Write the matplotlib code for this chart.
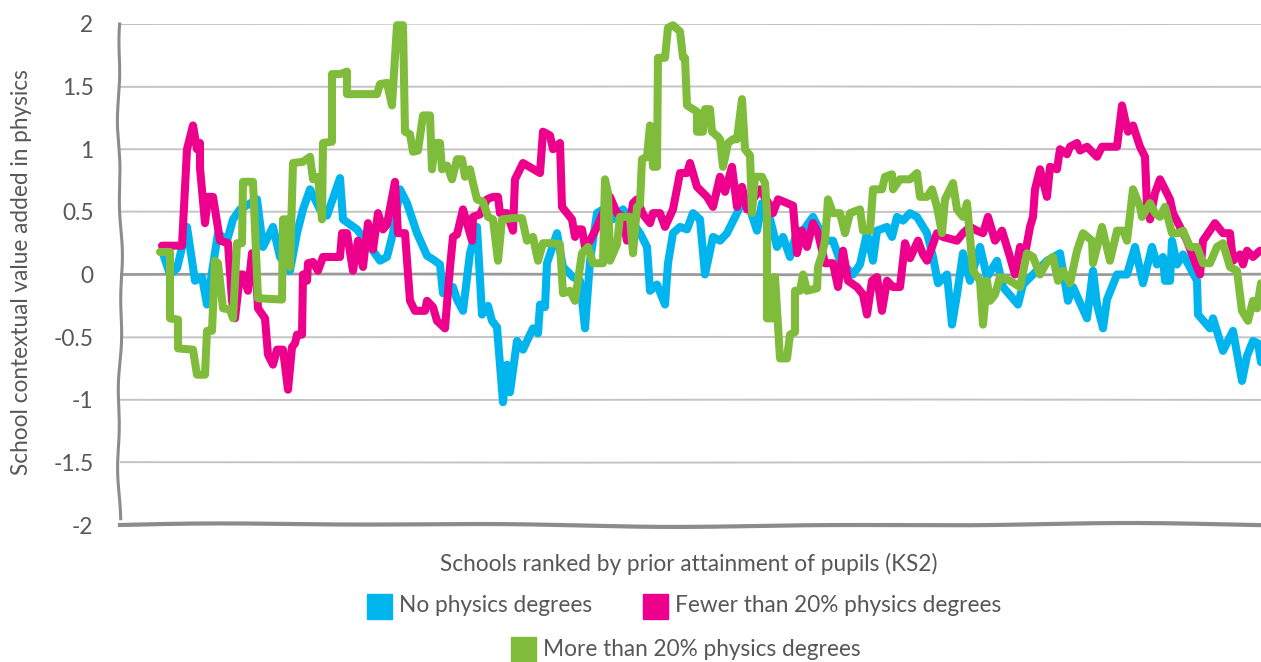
import numpy as np
import matplotlib
matplotlib.use("Agg")
import matplotlib.pyplot as plt
from matplotlib.patches import Rectangle

# ---------------- data: (school rank, contextual value added) ----------------
no_degrees = [
    (2, 0.19), (10, 0.0), (17, 0.05), (27, 0.38), (35, -0.05), (42, -0.02), (47, -0.24), (58, 0.33),
    (67, 0.27), (73, 0.44), (80, 0.52), (97, 0.60), (103, 0.22), (113, 0.38), (120, 0.14), (130, 0.03),
    (137, 0.33), (143, 0.52), (150, 0.68), (160, 0.52), (167, 0.47), (180, 0.77), (183, 0.44), (197, 0.36),
    (213, 0.19), (220, 0.11), (227, 0.14), (233, 0.33), (240, 0.68), (247, 0.57), (257, 0.33), (267, 0.15),
    (273, 0.12), (280, 0.08), (283, -0.15), (290, -0.12), (293, -0.1), (297, -0.2), (303, -0.29), (310, 0.17),
    (317, 0.38), (322, -0.32), (328, -0.25), (332, -0.37), (337, -0.42), (343, -1.02), (347, -0.72),
    (350, -0.94), (357, -0.53), (363, -0.6), (367, -0.53), (373, -0.43), (378, -0.47), (380, -0.24),
    (385, -0.26), (387, 0.09), (397, 0.33), (403, 0.06), (413, -0.02), (420, -0.05), (425, -0.43), (430, 0.11),
    (437, 0.49), (447, 0.54), (453, 0.44), (463, 0.52), (473, 0.41), (480, 0.33), (487, 0.22), (490, -0.13),
    (497, -0.08), (505, -0.24), (508, 0.09), (513, 0.33), (520, 0.38), (527, 0.36), (533, 0.49), (540, 0.44),
    (545, 0.0), (553, 0.3), (560, 0.27), (567, 0.33), (577, 0.49), (583, 0.6), (590, 0.52), (597, 0.35),
    (602, 0.57), (607, 0.54), (617, 0.22), (623, 0.3), (630, 0.14), (637, 0.35), (643, 0.35), (653, 0.46),
    (660, 0.35), (667, 0.27), (673, 0.27), (680, 0.11), (687, 0.05), (693, 0.0), (700, 0.08), (707, 0.33),
    (713, 0.11), (717, 0.35), (727, 0.38), (732, 0.3), (737, 0.46), (743, 0.43), (750, 0.49), (757, 0.46),
    (767, 0.33), (773, 0.14), (778, -0.07), (787, 0.0), (792, -0.4), (797, -0.16), (803, 0.17), (810, -0.05),
    (820, 0.22), (827, -0.02), (837, 0.11), (843, -0.1), (858, -0.24), (863, -0.08), (873, 0.0), (887, 0.11),
    (900, 0.17), (908, -0.21), (913, -0.1), (927, -0.35), (933, 0.03), (937, -0.24), (943, -0.43), (947, -0.2),
    (957, 0.0), (967, 0.0), (975, 0.22), (983, -0.07), (992, 0.22), (997, 0.08), (1003, 0.14), (1005, -0.05),
    (1010, -0.05), (1012, 0.27), (1017, 0.08), (1023, 0.16), (1037, -0.05), (1038, -0.32), (1050, -0.43),
    (1053, -0.35), (1063, -0.61), (1073, -0.45), (1082, -0.85), (1087, -0.65), (1093, -0.53), (1098, -0.55),
    (1101, -0.7),
]

fewer_than_20 = [
    (2, 0.23), (22, 0.23), (27, 1.0), (33, 1.19), (37, 1.0), (40, 1.05), (40, 0.85), (45, 0.41), (48, 0.62),
    (53, 0.62), (60, 0.27), (68, 0.25), (72, -0.21), (75, -0.35), (80, 0.0), (83, 0.0), (88, -0.13), (92, 0.17),
    (95, 0.17), (98, -0.27), (105, -0.35), (108, -0.64), (113, -0.72), (117, -0.6), (123, -0.6), (128, -0.92),
    (132, -0.58), (135, -0.55), (137, -0.48), (142, -0.48), (143, 0.0), (147, -0.05), (148, 0.09), (153, 0.1),
    (158, 0.03), (163, 0.14), (180, 0.14), (182, 0.33), (187, 0.33), (193, 0.03), (198, 0.27), (203, 0.06),
    (208, 0.41), (213, 0.2), (218, 0.49), (223, 0.36), (227, 0.4), (235, 0.74), (238, 0.33), (245, 0.33),
    (250, -0.21), (255, -0.29), (265, -0.29), (267, -0.21), (273, -0.26), (277, -0.37), (285, -0.43),
    (290, 0.06), (293, 0.3), (297, 0.32), (303, 0.52), (312, 0.27), (313, 0.46), (320, 0.48), (327, 0.6),
    (333, 0.62), (338, 0.62), (340, 0.49), (347, 0.49), (353, 0.35), (355, 0.76), (363, 0.89), (380, 0.81),
    (383, 1.14), (390, 1.11), (393, 1.0), (400, 1.05), (402, 0.54), (407, 0.49), (412, 0.44), (415, 0.3),
    (418, 0.36), (422, 0.36), (425, 0.22), (430, 0.27), (437, 0.38), (443, 0.49), (450, 0.62), (457, 0.49),
    (463, 0.46), (467, 0.27), (473, 0.57), (477, 0.6), (483, 0.48), (490, 0.41), (493, 0.49), (500, 0.49),
    (505, 0.38), (513, 0.52), (520, 0.81), (527, 0.81), (530, 0.89), (537, 0.7), (547, 0.62), (553, 0.54),
    (560, 0.78), (565, 0.66), (572, 0.86), (577, 0.54), (582, 0.7), (587, 0.52), (593, 0.6), (600, 0.68),
    (610, 0.55), (613, 0.49), (618, 0.6), (627, 0.57), (633, 0.55), (637, 0.17), (642, 0.35), (647, 0.22),
    (653, 0.41), (658, 0.33), (665, 0.09), (673, 0.09), (678, -0.1), (683, 0.19), (688, -0.05), (697, -0.1),
    (703, -0.16), (707, -0.32), (712, -0.05), (717, -0.02), (722, -0.29), (727, -0.05), (733, -0.1),
    (740, -0.1), (745, 0.25), (750, 0.13), (758, 0.27), (763, 0.16), (767, 0.11), (777, 0.33), (783, 0.3),
    (797, 0.27), (803, 0.33), (810, 0.38), (817, 0.35), (823, 0.33), (828, 0.46), (835, 0.27), (842, 0.35),
    (850, 0.14), (855, 0.0), (860, 0.22), (865, 0.16), (870, 0.38), (873, 0.46), (875, 0.68), (880, 0.84),
    (887, 0.62), (890, 0.86), (897, 0.84), (900, 1.0), (907, 0.96), (910, 1.02), (917, 1.05), (920, 0.99),
    (927, 1.02), (937, 0.94), (942, 1.02), (950, 1.02), (957, 1.02), (962, 1.35), (965, 1.24), (968, 1.14),
    (973, 1.19), (980, 1.02), (985, 0.94), (987, 0.54), (990, 0.44), (995, 0.65), (1000, 0.76), (1010, 0.6),
    (1013, 0.49), (1027, 0.27), (1033, 0.14), (1040, 0.0), (1043, 0.27), (1055, 0.41), (1063, 0.33),
    (1070, 0.33), (1073, 0.11), (1080, 0.16), (1083, 0.08), (1087, 0.19), (1093, 0.14), (1100, 0.19),
]

more_than_20 = [
    (0, 0.18), (10, 0.18), (10, -0.35), (18, -0.36), (18, -0.59), (33, -0.6), (37, -0.8), (45, -0.8),
    (47, -0.45), (52, -0.45), (55, 0.11), (58, 0.09), (63, -0.27), (70, -0.28), (73, -0.35), (77, 0.25),
    (82, 0.25), (83, 0.74), (93, 0.74), (98, -0.19), (122, -0.2), (123, 0.44), (127, 0.44), (130, 0.06),
    (133, 0.89), (143, 0.9), (150, 0.94), (153, 0.76), (158, 0.78), (162, 0.44), (163, 1.05), (172, 1.06),
    (172, 1.6), (180, 1.6), (187, 1.62), (187, 1.44), (217, 1.44), (220, 1.52), (227, 1.53), (232, 1.35),
    (237, 1.99), (243, 1.99), (245, 1.14), (250, 1.12), (253, 0.98), (258, 0.99), (263, 1.27), (270, 1.27),
    (272, 0.84), (275, 1.05), (280, 1.05), (282, 0.84), (287, 0.87), (292, 0.76), (297, 0.92), (302, 0.92),
    (305, 0.78), (310, 0.84), (313, 0.73), (317, 0.6), (323, 0.58), (328, 0.46), (333, 0.44), (338, 0.11),
    (342, 0.44), (353, 0.45), (362, 0.45), (367, 0.27), (373, 0.3), (378, 0.11), (383, 0.25), (392, 0.25),
    (400, 0.24), (403, -0.15), (410, -0.13), (415, -0.21), (422, 0.17), (428, 0.22), (433, 0.09), (443, 0.09),
    (445, 0.76), (448, 0.65), (450, 0.11), (457, 0.24), (460, 0.46), (470, 0.46), (473, 0.17), (477, 0.54),
    (480, 0.56), (482, 0.92), (487, 0.94), (490, 1.19), (493, 0.86), (497, 0.86), (498, 1.73), (505, 1.73),
    (508, 1.97), (513, 1.99), (520, 1.94), (523, 1.73), (525, 1.73), (527, 1.35), (537, 1.3), (537, 1.14),
    (543, 1.14), (545, 1.32), (550, 1.32), (552, 1.14), (558, 1.1), (560, 1.08), (563, 0.86), (568, 1.05),
    (573, 1.08), (577, 1.08), (582, 1.4), (585, 1.0), (590, 0.95), (592, 0.49), (595, 0.78), (602, 0.78),
    (605, 0.73), (607, 0.49), (607, -0.35), (613, -0.35), (615, -0.02), (620, -0.67), (627, -0.67),
    (630, -0.48), (635, -0.46), (635, -0.13), (640, -0.13), (643, 0.0), (647, -0.13), (657, -0.11), (658, 0.06),
    (662, 0.16), (665, 0.27), (668, 0.6), (673, 0.49), (680, 0.49), (685, 0.33), (690, 0.49), (700, 0.52),
    (703, 0.35), (710, 0.35), (713, 0.68), (722, 0.68), (725, 0.78), (732, 0.8), (733, 0.68), (740, 0.76),
    (750, 0.76), (757, 0.81), (760, 0.62), (767, 0.62), (772, 0.68), (777, 0.54), (782, 0.33), (785, 0.6),
    (793, 0.73), (797, 0.52), (803, 0.46), (807, 0.57), (813, 0.03), (820, -0.05), (823, -0.4), (827, -0.05),
    (830, -0.21), (835, -0.16), (840, -0.02), (850, -0.05), (860, -0.1), (867, 0.17), (873, 0.14), (880, 0.0),
    (887, 0.1), (893, 0.14), (898, -0.05), (903, 0.03), (910, -0.07), (917, 0.19), (923, 0.33), (932, 0.27),
    (933, 0.09), (942, 0.38), (950, 0.11), (957, 0.35), (963, 0.35), (967, 0.27), (973, 0.68), (980, 0.54),
    (982, 0.46), (990, 0.57), (995, 0.49), (1000, 0.46), (1005, 0.54), (1012, 0.33), (1018, 0.33), (1023, 0.35),
    (1030, 0.22), (1037, 0.22), (1043, 0.09), (1050, 0.09), (1057, 0.22), (1063, 0.25), (1070, 0.06),
    (1077, 0.03), (1082, -0.29), (1088, -0.37), (1093, -0.21), (1097, -0.27), (1101, -0.07),
]

y_ticks = [-2, -1.5, -1, -0.5, 0, 0.5, 1, 1.5, 2]
y_tick_labels = ["-2", "-1.5", "-1", "-0.5", "0", "0.5", "1", "1.5", "2"]
series_names = ["No physics degrees", "Fewer than 20% physics degrees", "More than 20% physics degrees"]
series_colors = ["#00B5EE", "#EC008C", "#80BC3C"]

# ---------------- figure ----------------
plt.rcParams['font.family'] = ['Lato', 'DejaVu Sans']
TXT = "#575757"
FS = 16.3

fig = plt.figure(figsize=(12.61, 6.62), dpi=100)
ax = fig.add_axes([120 / 1261, 1 - 525 / 662, 1 - 120 / 1261, (525 - 24) / 662])
ax.set_xlim(-40, 1101)
ax.set_ylim(-2, 2)
for s in ax.spines.values():
    s.set_visible(False)

# gridlines (slightly irregular, hand drawn look)
gx = np.linspace(0, 1, 200)
for yv in y_ticks[1:]:
    col = "#9A9A9A" if yv == 0 else "#C4C4C4"
    lw = 2.0 if yv == 0 else 1.4
    wob = 0.004 * np.sin(gx * 7 + yv * 3) * (1 if yv == 0 else 0.5)
    ax.plot(gx, yv + wob, transform=ax.get_yaxis_transform(), color=col, lw=lw, zorder=1,
            solid_capstyle='butt')

# hand-drawn axes
ly = np.linspace(-1.95, 2.0, 200)
lx = -0.0015 * np.sin((ly + 2) * 2.4) + 0.0008 * np.sin(ly * 9)
ax.plot(lx, ly, transform=ax.get_yaxis_transform(), color="#8C8C8C", lw=2.2, zorder=2, clip_on=False)
bx = np.linspace(0.0, 1.0, 300)
by = -2.0 + 0.01 * np.sin(bx * 9) + 0.006 * np.sin(bx * 23)
ax.plot(bx, by, transform=ax.get_yaxis_transform(), color="#8C8C8C", lw=3, zorder=2, clip_on=False)

# series
for data, c in zip([no_degrees, fewer_than_20, more_than_20], series_colors):
    r, v = zip(*data)
    ax.plot(r, v, color=c, lw=5.8, solid_joinstyle='round', solid_capstyle='round', zorder=3,
            clip_on=False)

ax.set_xticks([])
ax.set_yticks(y_ticks)
ax.set_yticklabels(y_tick_labels)
ax.tick_params(axis='y', length=0, pad=19, labelsize=FS, labelcolor=TXT)

fig.text(22 / 1261, 1 - 272 / 662, "School contextual value added in physics", rotation=90,
         ha='center', va='center', fontsize=FS, color=TXT)
fig.text(689 / 1261, 1 - 564 / 662, "Schools ranked by prior attainment of pupils (KS2)",
         ha='center', va='center', fontsize=FS, color=TXT)

# legend (manual, centred like the reference)
W, H = 1261, 662
legend_items = [(367, 606, 0), (643, 606, 1), (511, 649, 2)]
for px, py, i in legend_items:
    fig.patches.append(Rectangle((px / W, 1 - (py + 12.5) / H), 25 / W, 25 / H,
                                 transform=fig.transFigure, color=series_colors[i]))
    fig.text((px + 32) / W, 1 - py / H, series_names[i], ha='left', va='center',
             fontsize=FS, color=TXT)

fig.savefig("out.png", dpi=100)
